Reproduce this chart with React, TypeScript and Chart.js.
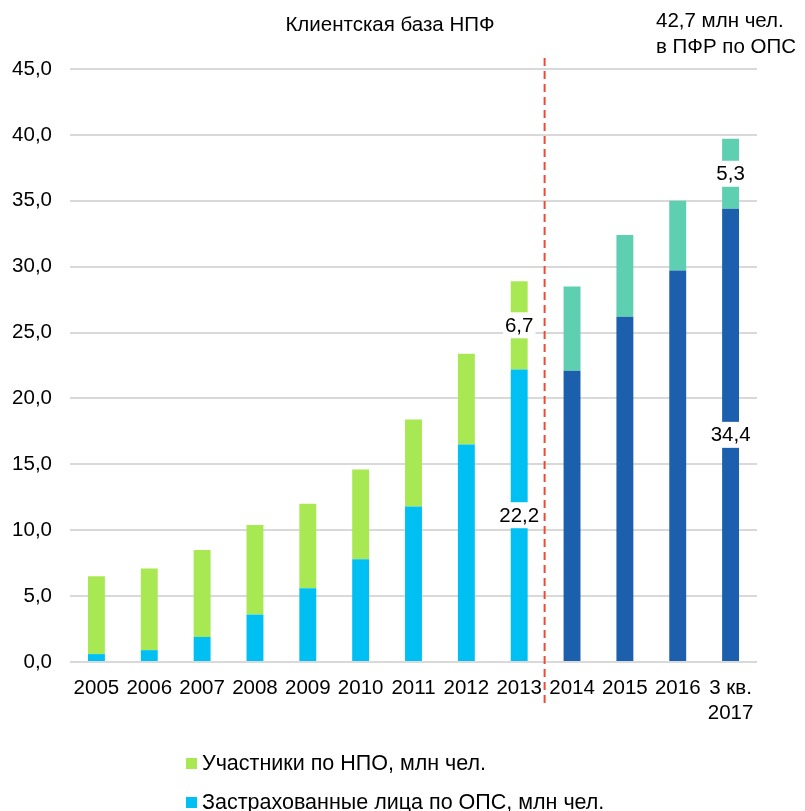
import React, { useEffect, useRef } from "react";
import { Chart, registerables } from "chart.js";

Chart.register(...registerables);

const categories: (string | string[])[] = [
  "2005", "2006", "2007", "2008", "2009", "2010", "2011", "2012", "2013",
  "2014", "2015", "2016", ["3 кв.", "2017"],
];
const opsInsured = [0.6, 0.9, 1.9, 3.6, 5.6, 7.8, 11.8, 16.5, 22.2, 22.1, 26.2, 29.7, 34.4];
const npoParticipants = [5.9, 6.2, 6.6, 6.8, 6.4, 6.8, 6.6, 6.9, 6.7, 6.4, 6.2, 5.3, 5.3];
const labeledIndices = [8, 12];
const splitAfterIndex = 8;
const yTicks = [0, 5, 10, 15, 20, 25, 30, 35, 40, 45];

const seriesNames = ["Участники по НПО, млн чел.", "Застрахованные лица по ОПС, млн чел."];
const titleText = "Клиентская база НПФ";
const noteLines = ["42,7 млн чел.", "в ПФР по ОПС"];

const GREEN = "#A8E852";
const CYAN = "#00BFF3";
const TEAL = "#5ECFB1";
const NAVY = "#1B5FAD";
const FONT = "'Liberation Sans', Arial, sans-serif";

const fmt = (v: number) => v.toFixed(1).replace(".", ",");

export default function App() {
  const ref = useRef<HTMLCanvasElement | null>(null);
  useEffect(() => {
    if (!ref.current) return;
    const bottomColors = opsInsured.map((_, i) => (i <= splitAfterIndex ? CYAN : NAVY));
    const topColors = npoParticipants.map((_, i) => (i <= splitAfterIndex ? GREEN : TEAL));

    const overlay = {
      id: "overlay",
      afterDatasetsDraw(chart: any) {
        const ctx = chart.ctx;
        const x = chart.scales.x;
        const sx = (x.getPixelForValue(splitAfterIndex) + x.getPixelForValue(splitAfterIndex + 1)) / 2 - 1;
        ctx.save();
        ctx.strokeStyle = "#EE4B37";
        ctx.lineWidth = 2;
        ctx.setLineDash([8, 5]);
        ctx.beginPath();
        ctx.moveTo(sx, 58);
        ctx.lineTo(sx, 708);
        ctx.stroke();
        ctx.restore();

        ctx.save();
        ctx.font = `20.5px ${FONT}`;
        ctx.textAlign = "center";
        ctx.textBaseline = "middle";
        chart.data.datasets.forEach((ds: any, di: number) => {
          const meta = chart.getDatasetMeta(di);
          labeledIndices.forEach((i) => {
            const bar = meta.data[i];
            const cy = (bar.y + bar.base) / 2;
            const txt = fmt(ds.data[i]);
            const w = ctx.measureText(txt).width + 4;
            ctx.fillStyle = "#FFFFFF";
            ctx.fillRect(bar.x - w / 2, cy - 13, w, 26);
            ctx.fillStyle = "#000000";
            ctx.fillText(txt, bar.x, cy + 1);
          });
        });
        ctx.restore();
      },
      afterDraw(chart: any) {
        const ctx = chart.ctx;
        ctx.save();
        ctx.fillStyle = "#000000";
        ctx.textBaseline = "middle";
        ctx.textAlign = "center";
        ctx.font = `20.5px ${FONT}`;
        ctx.fillText(titleText, 390, 25);
        ctx.textAlign = "left";
        ctx.font = `20.5px ${FONT}`;
        ctx.fillText(noteLines[0], 656, 21);
        ctx.fillText(noteLines[1], 656, 47);
        const items = [
          { text: seriesNames[0], color: GREEN, y: 763 },
          { text: seriesNames[1], color: CYAN, y: 802 },
        ];
        ctx.font = `21.5px ${FONT}`;
        items.forEach((it) => {
          ctx.fillStyle = it.color;
          ctx.fillRect(186, it.y - 5, 11, 11);
          ctx.fillStyle = "#000000";
          ctx.fillText(it.text, 202, it.y + 1);
        });
        ctx.restore();
      },
    };

    const chart = new Chart(ref.current, {
      type: "bar",
      data: {
        labels: categories as any,
        datasets: [
          {
            label: seriesNames[1],
            data: opsInsured,
            backgroundColor: bottomColors,
            barPercentage: 0.64,
            categoryPercentage: 0.5,
          },
          {
            label: seriesNames[0],
            data: npoParticipants,
            backgroundColor: topColors,
            barPercentage: 0.64,
            categoryPercentage: 0.5,
          },
        ],
      },
      options: {
        responsive: false,
        animation: false,
        layout: { padding: { top: 69, right: 48, left: 0, bottom: 0 } },
        plugins: {
          legend: { display: false },
          tooltip: { enabled: false },
          title: { display: false },
        },
        scales: {
          x: {
            stacked: true,
            grid: { display: false, drawTicks: false },
            border: { display: false },
            ticks: {
              color: "#000000",
              font: { family: FONT, size: 20.5 },
              padding: 14,
              maxRotation: 0,
              autoSkip: false,
            },
            afterFit: (s: any) => {
              s.height = 149;
            },
          },
          y: {
            stacked: true,
            min: 0,
            max: 45,
            grid: { color: "#D9D9D9", lineWidth: 2, drawTicks: false },
            border: { display: false },
            afterBuildTicks: (s: any) => {
              s.ticks = yTicks.map((v) => ({ value: v }));
            },
            ticks: {
              color: "#000000",
              font: { family: FONT, size: 20.5 },
              padding: 18,
              callback: (v: any) => fmt(Number(v)),
            },
            afterFit: (s: any) => {
              s.width = 70;
            },
          },
        },
      },
      plugins: [overlay],
    });
    return () => chart.destroy();
  }, []);

  return (
    <div style={{ position: "absolute", left: 0, top: 0, width: 805, height: 811, background: "#fff" }}>
      <canvas ref={ref} width={805} height={811} style={{ display: "block" }} />
    </div>
  );
}
